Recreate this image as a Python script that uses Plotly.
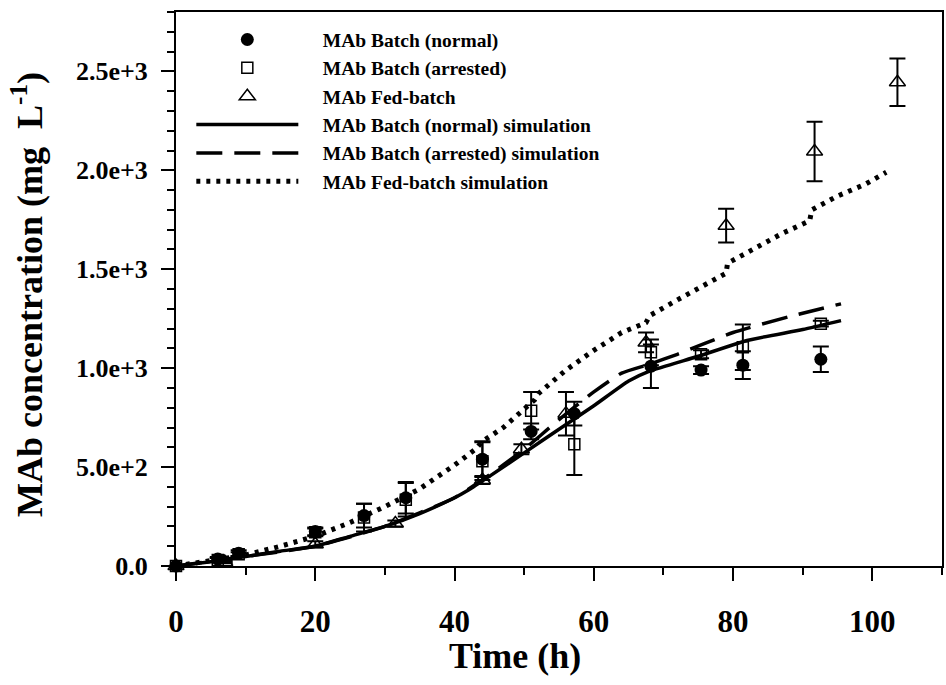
import plotly.graph_objects as go

# ---- data ----
t_normal = [0, 6, 9, 20, 27, 33, 44, 51, 57.2, 68.2, 75.4, 81.4, 92.6]
y_normal = [0, 35, 65, 175, 255, 345, 540, 680, 770, 1010, 990, 1015, 1045]
e_normal = [0, 10, 15, 20, 60, 80, 90, 40, 60, 110, 20, 70, 65]

t_arrested = [0, 6, 9, 20, 27, 33, 44, 51, 57.2, 68.2, 75.4, 81.4, 92.6]
y_arrested = [0, 30, 60, 170, 245, 335, 530, 785, 615, 1080, 1070, 1105, 1225]
e_arrested = [0, 10, 10, 20, 70, 85, 95, 95, 155, 65, 20, 115, 15]

t_fed = [0, 7, 20, 31.5, 44, 49.6, 56, 67.5, 79, 91.7, 103.6]
y_fed = [0, 20, 110, 215, 435, 590, 770, 1130, 1720, 2095, 2445]
e_fed = [0, 5, 15, 15, 20, 25, 110, 50, 85, 150, 120]

t_sim_normal = [0, 5, 10, 15, 20, 25, 30, 35, 40, 42, 45, 50, 55, 60, 65, 68, 75, 82, 90, 95.5]
y_sim_normal = [0, 22, 48, 75, 100, 150, 200, 265, 345, 384, 453, 572, 691, 810, 935, 985, 1060, 1140, 1195, 1240]

t_sim_arrested = [0, 10, 20, 30, 40, 45, 50, 55, 60, 64, 68, 72, 80, 88, 95.5]
y_sim_arrested = [0, 48, 100, 200, 345, 460, 590, 740, 880, 975, 1020, 1070, 1180, 1260, 1325]

t_sim_fed = [0, 5, 10, 15, 20, 25, 30, 35, 40, 43, 44, 47, 50, 51.5, 52, 56, 60, 64, 67.5, 68,
             72, 76, 79, 79.2, 83, 87, 91, 91.3, 95, 99, 102]
y_sim_fed = [0, 25, 55, 100, 150, 220, 300, 390, 510, 590, 630, 700, 790, 840, 870, 990, 1090, 1180, 1230, 1265,
             1345, 1420, 1480, 1530, 1600, 1680, 1745, 1800, 1870, 1930, 1990]

y_tickvals = [0, 500, 1000, 1500, 2000, 2500]
y_ticktext = ["0.0", "5.0e+2", "1.0e+3", "1.5e+3", "2.0e+3", "2.5e+3"]
x_tickvals = [0, 20, 40, 60, 80, 100]
x_ticktext = ["0", "20", "40", "60", "80", "100"]

FONT = "Liberation Serif"
PAD = "\u00a0" * 4

fig = go.Figure()

def err(arr):
    return dict(type="data", array=arr, visible=True, color="black", thickness=2, width=8)

fig.add_trace(go.Scatter(x=t_normal, y=y_normal, mode="markers", name="MAb Batch (normal)",
                         error_y=err(e_normal), cliponaxis=False,
                         marker=dict(symbol="circle", size=13, color="black")))
fig.add_trace(go.Scatter(x=t_arrested, y=y_arrested, mode="markers", name="MAb Batch (arrested)",
                         error_y=err(e_arrested), cliponaxis=False,
                         marker=dict(symbol="square-open", size=11, color="black", line=dict(width=1.5))))
fig.add_trace(go.Scatter(x=t_fed, y=y_fed, mode="markers", name="MAb Fed-batch",
                         error_y=err(e_fed), cliponaxis=False,
                         marker=dict(symbol="triangle-up-open", size=14, color="black", line=dict(width=1.5))))
fig.add_trace(go.Scatter(x=t_sim_normal, y=y_sim_normal, mode="lines", name="MAb Batch (normal) simulation",
                         line=dict(color="black", width=3.5, shape="spline", smoothing=0.5)))
fig.add_trace(go.Scatter(x=t_sim_arrested, y=y_sim_arrested, mode="lines", name="MAb Batch (arrested) simulation",
                         line=dict(color="black", width=3.5, dash="26px,12px", shape="spline", smoothing=0.5)))
fig.add_trace(go.Scatter(x=t_sim_fed, y=y_sim_fed, mode="lines", name="MAb Fed-batch simulation",
                         line=dict(color="black", width=5, dash="4px,6px")))

axis_common = dict(showline=True, linecolor="black", linewidth=2, mirror=True,
                   ticks="outside", tickcolor="black", tickwidth=1.5, showgrid=False, zeroline=False)

fig.update_xaxes(range=[0, 110], tickvals=x_tickvals, ticktext=["<b>%s</b>" % s for s in x_ticktext],
                 ticklen=13, ticklabelstandoff=14,
                 tickfont=dict(family=FONT, size=31, color="black"),
                 minor=dict(dtick=10, ticks="outside", ticklen=7, tickcolor="black", tickwidth=1.5),
                 **axis_common)
fig.update_yaxes(range=[0, 2800], tickvals=y_tickvals, ticktext=["<b>%s</b>" % s for s in y_ticktext],
                 ticklen=13, ticklabelstandoff=8,
                 tickfont=dict(family=FONT, size=26, color="black"),
                 minor=dict(dtick=100, ticks="outside", ticklen=7, tickcolor="black", tickwidth=1.5),
                 **axis_common)

fig.add_annotation(text="<b>MAb concentration (mg  L<sup>-1</sup>)</b>", xref="paper", yref="paper",
                   x=-0.194, y=0.49, xanchor="center", yanchor="middle", textangle=-90, showarrow=False,
                   font=dict(family=FONT, size=36, color="black"))

fig.add_annotation(text="<b>Time (h)</b>", xref="paper", yref="paper", x=0.442, y=-0.122,
                   xanchor="center", yanchor="top", showarrow=False,
                   font=dict(family=FONT, size=36, color="black"))

fig.update_layout(
    width=946, height=685,
    margin=dict(l=176, r=2, t=12, b=119),
    plot_bgcolor="white", paper_bgcolor="white",
    font=dict(family=FONT, color="black"),
    showlegend=True,
    legend=dict(x=0.02, y=0.985, xanchor="left", yanchor="top", bgcolor="rgba(0,0,0,0)",
                font=dict(family=FONT, size=19.5, color="black"), itemwidth=102,
                traceorder="normal"),
)
fig.for_each_trace(lambda tr: tr.update(name=PAD + "<b>" + tr.name + "</b>"))

fig.write_html("out.html")
